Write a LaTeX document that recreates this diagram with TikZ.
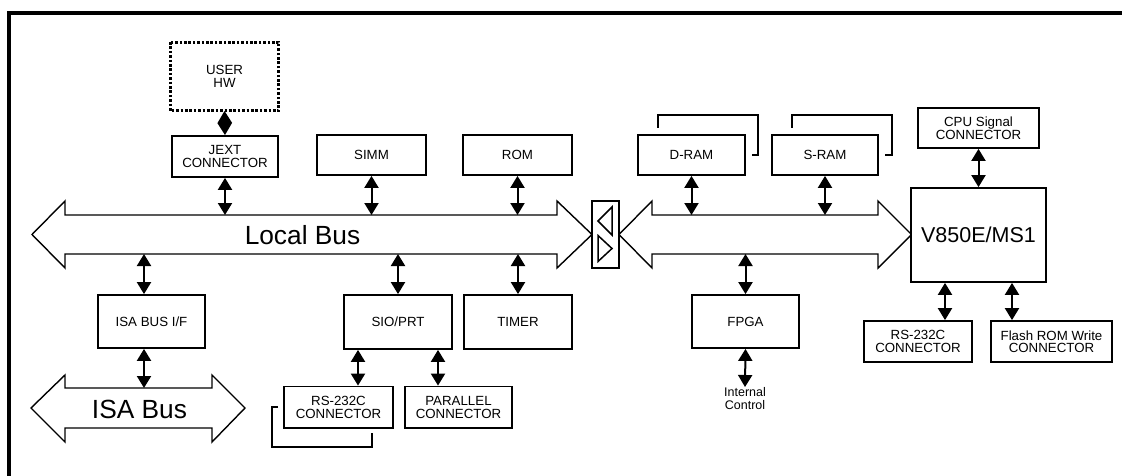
\documentclass[tikz,border=0pt]{standalone}
\usepackage{fontspec}
\setmainfont{Liberation Sans}
\usetikzlibrary{arrows.meta}
\newcommand\lblfont{\fontsize{13.3}{12.5}\selectfont}
\newcommand\bigfont{\fontsize{26.3}{26.3}\selectfont}
\tikzset{
  blk/.style={draw, line width=1.8pt, fill=white, inner sep=0pt, align=center, font=\lblfont},
  dbl/.style={line width=2pt, {Triangle[width=14pt,length=12pt]}-{Triangle[width=14pt,length=12pt]}},
  bus/.style={draw, line width=1.4pt, line join=miter, fill=white},
  brk/.style={line width=1.8pt, line join=miter},
  frame/.style={line width=4pt, line join=miter},
}
\begin{document}
\begin{tikzpicture}[x=1pt,y=-1pt]
\useasboundingbox (0,0) rectangle (1122,476);
\fill[white] (0,0) rectangle (1122,476);
% outer frame (top and left visible)
\draw[frame] (9,476) -- (9,13) -- (1122,13);

% helper coordinates
\coordinate (lbt) at (0,215);
\coordinate (lbb) at (0,254);
\coordinate (isat) at (0,388);
\coordinate (isaax) at (144,0);
\coordinate (sioa) at (358,0);
\coordinate (siob) at (438,0);
\coordinate (va) at (945,0);
\coordinate (vb) at (1012,0);

% buses
\draw[bus] (32,234.5) -- (65,201) -- (65,215) -- (557,215) -- (557,201) -- (592,234.5)
  -- (557,268) -- (557,254) -- (65,254) -- (65,268) -- cycle;
\draw[bus] (619,234.5) -- (652,201) -- (652,215) -- (878,215) -- (878,201) -- (911.5,234.5)
  -- (878,268) -- (878,254) -- (652,254) -- (652,268) -- cycle;
\draw[bus] (31,408) -- (65,375) -- (65,388) -- (212,388) -- (212,375) -- (245,408)
  -- (212,442) -- (212,428) -- (65,428) -- (65,442) -- cycle;
\node[font=\bigfont, inner sep=0pt] (lbtext) at (302.5,235) {Local Bus};
\node[font=\bigfont, inner sep=0pt] (isatext) at (139.5,409) {ISA Bus};

% bridge
\draw[line width=1.5pt, fill=white] (592,201) rectangle (619,268);
\draw[line width=1.5pt, line join=miter] (612,207) -- (598,221) -- (612,235) -- cycle;
\draw[line width=1.5pt, line join=miter] (598,235.5) -- (612,248.5) -- (598,261.5) -- cycle;

% shadow brackets
\draw[brk] (658,128) -- (658,115) -- (758,115) -- (758,155) -- (752,155);
\draw[brk] (792,128) -- (792,115) -- (892,115) -- (892,155) -- (885,155);
\draw[brk] (278,407) -- (272,407) -- (272,447) -- (372,447) -- (372,433);

% blocks
\node[blk, draw=none, minimum width=107pt, minimum height=67pt] (userhw) at (224.5,76.5) {USER\\HW};
\draw[line width=3pt, dash pattern=on 2.6pt off 1.8pt] (userhw.north west) rectangle (userhw.south east);
\node[blk, minimum width=106pt, minimum height=41pt] (jext) at (225,156.5) {JEXT\\CONNECTOR};
\node[blk, minimum width=109pt, minimum height=40pt] (simm) at (371.5,155) {SIMM};
\node[blk, minimum width=109pt, minimum height=40pt] (rom) at (517.5,155) {ROM};
\node[blk, minimum width=107pt, minimum height=40pt] (dram) at (691.5,155) {D-RAM};
\node[blk, minimum width=106pt, minimum height=40pt] (sram) at (825,155) {S-RAM};
\node[blk, minimum width=121pt, minimum height=40pt] (cpusig) at (978.5,128) {CPU Signal\\CONNECTOR};
\node[blk, minimum width=135pt, minimum height=94pt, font=\fontsize{21.5}{21.5}\selectfont] (v850) at (978.5,235) {V850E/MS1};
\node[blk, minimum width=107pt, minimum height=53pt] (isaif) at (151.5,321.5) {ISA BUS I/F};
\node[blk, minimum width=108pt, minimum height=54pt] (sio) at (398,322) {SIO/PRT};
\node[blk, minimum width=108pt, minimum height=54pt] (timer) at (518,322) {TIMER};
\node[blk, minimum width=107pt, minimum height=53pt] (fpga) at (745.5,321.5) {FPGA};
\node[blk, minimum width=109pt, minimum height=41.5pt] (rs232l) at (338.5,407.25) {RS-232C\\CONNECTOR};
\node[blk, minimum width=107pt, minimum height=41.5pt] (parallel) at (458.5,407.25) {PARALLEL\\CONNECTOR};
\node[blk, minimum width=108pt, minimum height=41pt] (rs232r) at (918,341.5) {RS-232C\\CONNECTOR};
\node[blk, minimum width=121pt, minimum height=41pt] (flash) at (1051.5,341.5) {Flash ROM Write\\CONNECTOR};
\node[inner sep=0pt, align=center, anchor=north, font=\fontsize{12.5}{13.5}\selectfont] (intc) at (745,387) {Internal\\Control};

% connectors
\draw[dbl] (userhw.south) -- (jext.north);
\draw[dbl] (jext.south) -- (jext.south |- lbt);
\draw[dbl] (simm.south) -- (simm.south |- lbt);
\draw[dbl] (rom.south) -- (rom.south |- lbt);
\draw[dbl] (dram.south) -- (dram.south |- lbt);
\draw[dbl] (sram.south) -- (sram.south |- lbt);
\draw[dbl] (cpusig.south) -- (v850.north);
\draw[dbl] (isaax |- lbb) -- (isaax |- isaif.north);
\draw[dbl] (isaax |- isaif.south) -- (isaax |- isat);
\draw[dbl] (sio.north |- lbb) -- (sio.north);
\draw[dbl] (timer.north |- lbb) -- (timer.north);
\draw[dbl] (fpga.north |- lbb) -- (fpga.north);
\draw[dbl] (fpga.south) -- (intc.north);
\draw[dbl] (sioa |- sio.south) -- (sioa |- rs232l.north);
\draw[dbl] (siob |- sio.south) -- (siob |- parallel.north);
\draw[dbl] (va |- v850.south) -- (va |- rs232r.north);
\draw[dbl] (vb |- v850.south) -- (vb |- flash.north);
\end{tikzpicture}
\end{document}
